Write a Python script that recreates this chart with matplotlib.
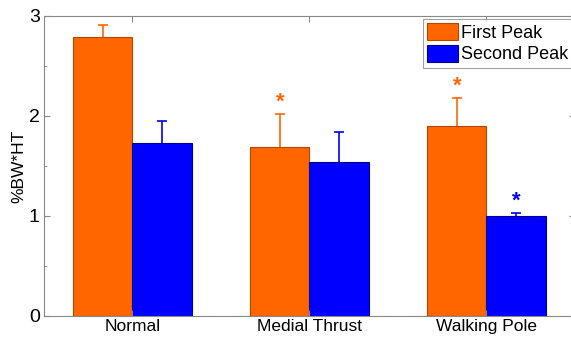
import numpy as np
import matplotlib
matplotlib.use('Agg')
from matplotlib import pyplot as plt
from matplotlib.ticker import MultipleLocator

plt.rcParams['font.family'] = ['Liberation Sans', 'DejaVu Sans']

# Data
groups = ['Normal', 'Medial Thrust', 'Walking Pole']
first_peak = [2.79, 1.69, 1.90]
first_err = [0.12, 0.33, 0.28]
second_peak = [1.73, 1.54, 1.00]
second_err = [0.22, 0.30, 0.03]
first_star = [False, True, True]
second_star = [False, False, True]

ORANGE = '#FF6600'
BLUE = '#0000FF'

fig = plt.figure(figsize=(5.71, 3.39), dpi=100)
ax = fig.add_axes([0.077, 0.068, 0.93, 0.885])

x = np.arange(1, len(groups) + 1)
w = 0.334
ax.bar(x - w / 2, first_peak, w, color=ORANGE, edgecolor='#B34700',
       linewidth=0.8, label='First Peak')
ax.bar(x + w / 2, second_peak, w, color=BLUE, edgecolor='#00008B',
       linewidth=0.8, label='Second Peak')

# upper-only error bars with a cap at the top end
for xs, vals, errs, col in [(x - w / 2, first_peak, first_err, ORANGE),
                            (x + w / 2, second_peak, second_err, BLUE)]:
    tops = np.array(vals) + np.array(errs)
    ax.vlines(xs, vals, tops, color=col, linewidth=1.2)
    ax.plot(xs, tops, linestyle='none', marker='_', markersize=7,
            markeredgewidth=1.2, color=col)

for i in range(len(groups)):
    if first_star[i]:
        ax.text(x[i] - w / 2, first_peak[i] + first_err[i] + 0.01, '*',
                color=ORANGE, ha='center', va='bottom', fontsize=16,
                fontweight='bold')
    if second_star[i]:
        ax.text(x[i] + w / 2, second_peak[i] + second_err[i] + 0.01, '*',
                color=BLUE, ha='center', va='bottom', fontsize=16,
                fontweight='bold')

ax.set_xlim(0.5, 3.5)
ax.set_ylim(0, 3)
ax.set_xticks(x)
ax.set_xticklabels(groups, fontsize=12.5)
ax.set_yticks([0, 1, 2, 3])
ax.yaxis.set_minor_locator(MultipleLocator(0.5))
ax.tick_params(axis='both', which='both', direction='in', top=True, right=True)
ax.tick_params(axis='x', labelsize=12.5, pad=2)
ax.tick_params(axis='y', labelsize=14, pad=3)
ax.tick_params(which='major', length=4, color='#888888')
ax.tick_params(which='minor', length=2, color='#888888')
for s in ax.spines.values():
    s.set_color('#888888')
    s.set_linewidth(0.8)
ax.set_ylabel('%BW*HT', fontsize=12.5, labelpad=2)

leg = ax.legend(loc='upper right', fontsize=13, frameon=True, fancybox=False,
                edgecolor='#888888', borderpad=0.25, handlelength=1.7,
                handleheight=1.1, handletextpad=0.15, labelspacing=0.15,
                borderaxespad=0.15)
leg.get_frame().set_linewidth(0.8)

plt.savefig('out.png', dpi=100)
